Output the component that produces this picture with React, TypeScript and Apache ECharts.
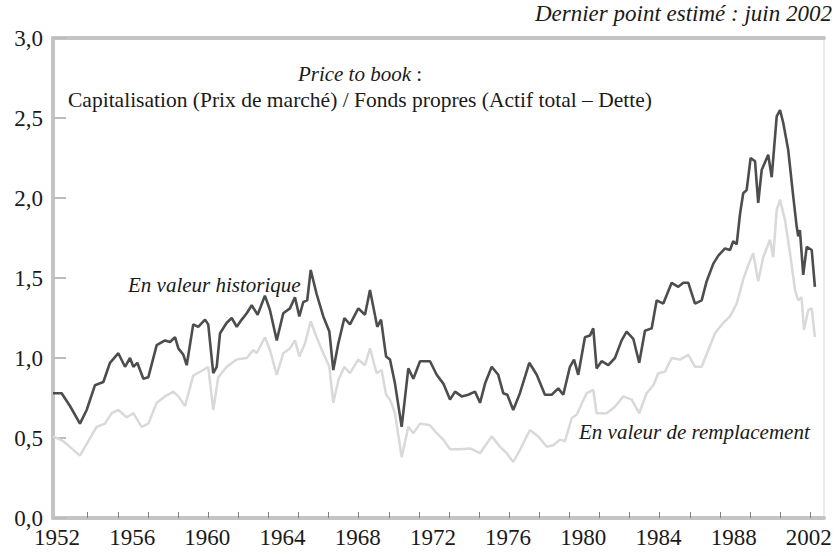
import React, { useEffect, useRef } from "react";
import * as echarts from "echarts";

// Ratio "price to book" — en valeur historique (série foncée)
const histYears = [
  1952.0, 1952.57, 1953.12, 1953.78, 1954.22, 1954.77, 1955.32, 1955.76, 1956.31, 1956.75,
  1957.08, 1957.3, 1957.56, 1957.96, 1958.29, 1958.84, 1959.39, 1959.72, 1960.05, 1960.27,
  1960.6, 1960.82, 1961.25, 1961.58, 1962.03, 1962.24, 1962.57, 1962.8, 1963.02, 1963.46,
  1963.79, 1964.12, 1964.45, 1964.78, 1965.11, 1965.5, 1965.98, 1966.31, 1966.76, 1967.19,
  1967.63, 1967.96, 1968.25, 1968.51, 1968.77, 1969.0, 1969.39, 1969.83, 1970.23, 1970.49,
  1970.82, 1971.22, 1971.59, 1972.14, 1972.58, 1972.91, 1973.39, 1973.64, 1973.97, 1974.23,
  1974.56, 1975.0, 1975.44, 1975.77, 1976.21, 1976.87, 1977.31, 1977.75, 1978.19, 1978.52,
  1978.96, 1979.39, 1979.84, 1980.17, 1980.5, 1980.94, 1981.37, 1981.7, 1981.97, 1982.36,
  1982.8, 1983.42, 1983.91, 1984.45, 1984.9, 1985.33, 1985.66, 1986.1, 1986.37, 1986.65,
  1987.09, 1987.42, 1987.64, 1987.86, 1988.19, 1988.63, 1989.07, 1989.51, 1989.84, 1990.28,
  1990.67, 1991.05, 1991.49, 1991.82, 1992.26, 1992.81, 1993.25, 1993.58, 1993.91, 1994.35,
  1994.79, 1995.12, 1995.56, 1995.89, 1996.33, 1996.66, 1996.87, 1997.1, 1997.32, 1997.53,
  1997.76, 1998.02, 1998.31, 1998.52, 1998.75, 1999.18, 1999.41, 1999.74, 1999.96, 2000.17,
  2000.5, 2000.83, 2001.06, 2001.16, 2001.27, 2001.49, 2001.72, 2002.05, 2002.26,
];
const histValues = [
  0.78, 0.78, 0.7, 0.59, 0.675, 0.83, 0.85, 0.97, 1.03, 0.945,
  1.0, 0.945, 0.97, 0.87, 0.88, 1.08, 1.11, 1.1, 1.13, 1.06,
  1.02, 0.955, 1.21, 1.195, 1.24, 1.21, 0.905, 0.945, 1.155, 1.22,
  1.25, 1.195, 1.24, 1.28, 1.33, 1.27, 1.39, 1.3, 1.11, 1.28,
  1.31, 1.38, 1.26, 1.35, 1.36, 1.55, 1.4, 1.26, 1.165, 0.925,
  1.09, 1.25, 1.21, 1.31, 1.27, 1.425, 1.195, 1.24, 1.01, 0.99,
  0.84, 0.57, 0.935, 0.87, 0.98, 0.98, 0.895, 0.84, 0.74, 0.79,
  0.76, 0.77, 0.79, 0.72, 0.84, 0.945, 0.895, 0.78, 0.77, 0.675,
  0.78, 0.97, 0.895, 0.77, 0.77, 0.81, 0.77, 0.945, 0.99, 0.895,
  1.13, 1.14, 1.185, 0.935, 0.98, 0.955, 1.0, 1.11, 1.165, 1.12,
  0.97, 1.17, 1.185, 1.36, 1.34, 1.47, 1.445, 1.47, 1.47, 1.34,
  1.36, 1.48, 1.59, 1.64, 1.685, 1.675, 1.73, 1.71, 1.9, 2.03,
  2.05, 2.25, 2.23, 1.97, 2.175, 2.27, 2.13, 2.51, 2.55, 2.47,
  2.3, 2.01, 1.82, 1.76, 1.8, 1.52, 1.695, 1.675, 1.445,
];

// Ratio "price to book" — en valeur de remplacement (série claire)
const replYears = [
  1952.0, 1952.68, 1953.23, 1953.78, 1954.33, 1954.88, 1955.43, 1955.87, 1956.31, 1956.86,
  1957.3, 1957.85, 1958.29, 1958.84, 1959.39, 1959.94, 1960.27, 1960.71, 1961.25, 1961.91,
  1962.24, 1962.57, 1962.9, 1963.46, 1964.12, 1964.78, 1965.21, 1965.44, 1965.98, 1966.31,
  1966.76, 1967.19, 1967.63, 1967.96, 1968.25, 1968.62, 1969.0, 1969.39, 1969.83, 1970.23,
  1970.49, 1970.82, 1971.22, 1971.59, 1972.14, 1972.58, 1972.91, 1973.35, 1973.68, 1973.97,
  1974.23, 1974.56, 1975.0, 1975.44, 1975.77, 1976.21, 1976.87, 1977.31, 1977.75, 1978.19,
  1978.85, 1979.51, 1980.17, 1980.94, 1981.49, 1981.93, 1982.36, 1982.8, 1983.46, 1984.01,
  1984.57, 1985.0, 1985.44, 1985.77, 1986.22, 1986.54, 1987.2, 1987.64, 1987.86, 1988.52,
  1989.07, 1989.62, 1990.17, 1990.67, 1991.16, 1991.6, 1991.93, 1992.37, 1992.81, 1993.36,
  1993.91, 1994.35, 1994.79, 1995.23, 1995.67, 1996.22, 1996.66, 1997.1, 1997.53, 1997.86,
  1998.19, 1998.52, 1998.85, 1999.3, 1999.51, 1999.74, 1999.96, 2000.29, 2000.62, 2000.95,
  2001.16, 2001.38, 2001.54, 2001.82, 2002.05, 2002.26,
];
const replValues = [
  0.51, 0.48, 0.435, 0.39, 0.48, 0.57, 0.59, 0.655, 0.675, 0.63,
  0.655, 0.57, 0.59, 0.72, 0.76, 0.79, 0.76, 0.7, 0.89, 0.925,
  0.945, 0.675, 0.88, 0.945, 0.99, 1.0, 1.05, 1.03, 1.13, 1.05,
  0.895, 1.03, 1.06, 1.11, 1.01, 1.09, 1.23, 1.13, 1.03, 0.945,
  0.72, 0.86, 0.945, 0.905, 0.99, 0.955, 1.06, 0.905, 0.925, 0.77,
  0.74, 0.655, 0.38, 0.57, 0.53, 0.59, 0.58, 0.53, 0.49, 0.43,
  0.43, 0.435, 0.405, 0.51, 0.445, 0.405, 0.35, 0.425, 0.55, 0.51,
  0.445, 0.455, 0.49, 0.48, 0.625, 0.645, 0.78, 0.8, 0.655, 0.655,
  0.695, 0.76, 0.74, 0.655, 0.78, 0.83, 0.905, 0.915, 1.0, 0.99,
  1.02, 0.945, 0.945, 1.05, 1.155, 1.22, 1.26, 1.34, 1.49, 1.58,
  1.655, 1.48, 1.63, 1.74, 1.63, 1.925, 1.99, 1.86, 1.655, 1.425,
  1.36, 1.38, 1.175, 1.3, 1.31, 1.13,
];

// Libellés de l'axe des abscisses (tels qu'imprimés sur l'original)
const xTickLabels = ["1952", "1956", "1960", "1964", "1968", "1972", "1976", "1980", "1984", "1988", "2002"];
const xTickCount = 25;

const SERIF = "Liberation Serif";

export default function App() {
  const ref = useRef<HTMLDivElement>(null);

  useEffect(() => {
    if (!ref.current) return;
    const chart = echarts.init(ref.current, null, { renderer: "svg" });

    const xMin = 1952;
    const xMax = 2002.86;
    const labelStart = 1952.26;
    const labelStep = 4.96;
    const labelValues = xTickLabels.map((_, i) => labelStart + i * labelStep);
    const tickStart = 1954.29;
    const tickStep = 1.986;
    const tickValues = Array.from({ length: xTickCount }, (_, k) => tickStart + k * tickStep);

    const histData = histYears.map((y, i) => [y, histValues[i]]);
    const replData = replYears.map((y, i) => [y, replValues[i]]);

    const borderColor = "#c4c4c4";

    chart.setOption({
      animation: false,
      backgroundColor: "#ffffff",
      textStyle: { fontFamily: SERIF },
      grid: {
        left: 53,
        right: 12,
        top: 38,
        bottom: 38,
        show: false,
      },
      xAxis: [
        {
          type: "value",
          min: xMin,
          max: xMax,
          position: "bottom",
          axisLine: { show: true, onZero: false, lineStyle: { color: borderColor, width: 4 } },
          axisTick: {
            show: true,
            inside: true,
            length: 6,
            customValues: tickValues,
            lineStyle: { color: "#808080", width: 1 },
          },
          axisLabel: {
            show: true,
            customValues: labelValues,
            formatter: (v: number) => xTickLabels[Math.round((v - labelStart) / labelStep)] ?? "",
            margin: 8,
            fontSize: 23,
            fontFamily: SERIF,
            color: "#1a1a1a",
          },
          splitLine: { show: false },
        },
        {
          type: "value",
          min: xMin,
          max: xMax,
          position: "top",
          axisLine: { show: true, onZero: false, lineStyle: { color: borderColor, width: 4 } },
          axisTick: { show: false },
          axisLabel: { show: false },
          splitLine: { show: false },
        },
      ],
      yAxis: [
        {
          type: "value",
          min: 0,
          max: 3,
          interval: 0.5,
          position: "left",
          axisLine: { show: true, onZero: false, lineStyle: { color: borderColor, width: 4 } },
          axisTick: { show: true, inside: true, length: 13, lineStyle: { color: "#bdbdbd", width: 2 } },
          axisLabel: {
            formatter: (v: number) => v.toFixed(1).replace(".", ","),
            margin: 10,
            fontSize: 23,
            fontFamily: SERIF,
            color: "#1a1a1a",
          },
          splitLine: { show: false },
        },
        {
          type: "value",
          min: 0,
          max: 3,
          position: "right",
          axisLine: { show: true, onZero: false, lineStyle: { color: "#e3e3e3", width: 1.5 } },
          axisTick: { show: false },
          axisLabel: { show: false },
          splitLine: { show: false },
        },
      ],
      series: [
        {
          name: "En valeur de remplacement",
          type: "line",
          data: replData,
          showSymbol: false,
          symbol: "none",
          lineStyle: { color: "#d9d9d9", width: 2.5 },
          z: 2,
        },
        {
          name: "En valeur historique",
          type: "line",
          data: histData,
          showSymbol: false,
          symbol: "none",
          lineStyle: { color: "#4d4d4d", width: 2.6 },
          z: 3,
        },
      ],
      graphic: [
        {
          type: "text",
          right: 4,
          top: 2,
          style: {
            text: "Dernier point estimé : juin 2002",
            fontFamily: SERIF,
            fontStyle: "italic",
            fontSize: 23,
            fill: "#1a1a1a",
          },
        },
        {
          type: "text",
          x: 360,
          y: 74,
          style: {
            text: "{i|Price to book} :",
            rich: { i: { fontStyle: "italic", fontFamily: SERIF, fontSize: 21, fill: "#1a1a1a" } },
            fontFamily: SERIF,
            fontSize: 21,
            fill: "#1a1a1a",
            align: "center",
            verticalAlign: "middle",
          },
        },
        {
          type: "text",
          x: 360,
          y: 100,
          style: {
            text: "Capitalisation (Prix de marché) / Fonds propres (Actif total – Dette)",
            fontFamily: SERIF,
            fontSize: 21.5,
            fill: "#1a1a1a",
            align: "center",
            verticalAlign: "middle",
          },
        },
        {
          type: "text",
          x: 128,
          y: 285,
          style: {
            text: "En valeur historique",
            fontFamily: SERIF,
            fontStyle: "italic",
            fontSize: 21,
            fill: "#1a1a1a",
            align: "left",
            verticalAlign: "middle",
          },
        },
        {
          type: "text",
          x: 579,
          y: 432,
          style: {
            text: "En valeur de remplacement",
            fontFamily: SERIF,
            fontStyle: "italic",
            fontSize: 21,
            fill: "#1a1a1a",
            align: "left",
            verticalAlign: "middle",
          },
        },
      ],
    });

    return () => {
      chart.dispose();
    };
  }, []);

  return (
    <div
      ref={ref}
      style={{ position: "absolute", left: 0, top: 0, width: 836, height: 556, background: "#fff" }}
    />
  );
}
